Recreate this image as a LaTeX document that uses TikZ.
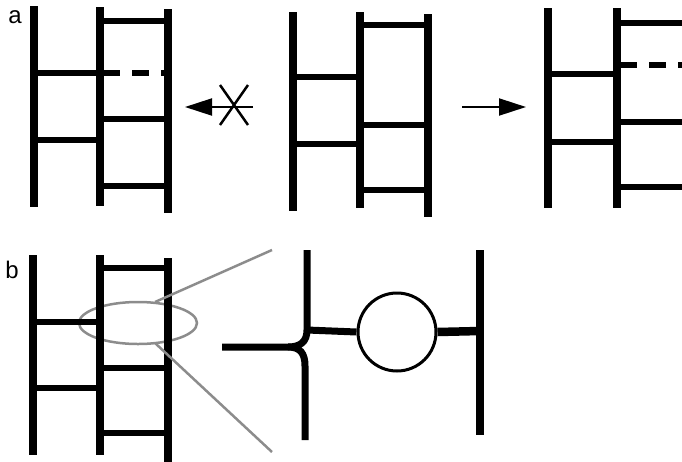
\documentclass[tikz,border=0pt]{standalone}
\usepackage{fontspec}
\setsansfont{Liberation Sans}
\usetikzlibrary{arrows.meta}
\tikzset{
  rail/.style={line width=8pt},
  rung/.style={line width=6.5pt},
  brokenrung/.style={rung, dash pattern=on 17pt off 12pt},
  lens/.style={draw=black!45, line width=2.5pt},
  push/.style={-{Triangle[length=27pt,width=17pt]}, line width=2pt},
  panellabel/.style={font=\sffamily\fontsize{24}{28}\selectfont, inner sep=0pt, anchor=base},
  bulge/.style={circle, draw, line width=3pt, minimum size=78pt, inner sep=0pt},
}

\begin{document}
\begin{tikzpicture}[x=1pt, y=-1pt]
  \useasboundingbox (0,0) rectangle (682,461);
  \clip (0,0) rectangle (682,461);

  % panel a
  \node[panellabel] (tagA) at (15,23) {a};
  % left ladder, blocked
  \draw[rail] (34,6) -- (34,207) (100,7) -- (100,206) (168,9) -- (168,213);
  \foreach \y in {73,140} { \draw[rung] (34,\y) -- (100,\y); }
  \foreach \y in {21,119,186} { \draw[rung] (100,\y) -- (168,\y); }
  \draw[brokenrung] (103,73) -- (168,73);
  % middle ladder
  \draw[rail] (293,12) -- (293,211) (360,12) -- (360,208) (428,14) -- (428,217);
  \foreach \y in {77,144} { \draw[rung] (293,\y) -- (360,\y); }
  \foreach \y in {25,125,190} { \draw[rung] (360,\y) -- (428,\y); }
  % right ladder
  \draw[rail] (548,8) -- (548,208) (617,8) -- (617,208) (686,10) -- (686,215);
  \foreach \y in {74,142} { \draw[rung] (548,\y) -- (617,\y); }
  \foreach \y in {23,122,187} { \draw[rung] (617,\y) -- (686,\y); }
  \draw[brokenrung] (620,65) -- (686,65);
  % arrows
  \coordinate (blockS) at (253,107);
  \coordinate (blockE) at (185,107);
  \draw[push] (blockS) -- (blockE);
  \draw[line width=2.5pt] (220,85) -- (248,125) (248,85) -- (220,125);
  \coordinate (goS) at (462,107);
  \coordinate (goE) at (526,107);
  \draw[push] (goS) -- (goE);

  % panel b
  \node[panellabel] (tagB) at (12,278) {b};
  \draw[lens] (138,323) ellipse [x radius=59, y radius=21];
  \draw[rail] (33,255) -- (33,455) (100,255) -- (100,455) (168,258) -- (168,465);
  \foreach \y in {322,388} { \draw[rung] (33,\y) -- (100,\y); }
  \foreach \y in {268,368,433} { \draw[rung] (100,\y) -- (168,\y); }
  \draw[lens] (155,302) -- (272,250) (155,343) -- (272,452);
  % close-up
  \node[bulge] (ring) at (397,332) {};
  \coordinate (fork) at (288,347);
  \coordinate (upper) at (307,330);
  \draw[rung, line width=7pt] (222,347) -- (fork)
    .. controls (300,347) and (307,342) .. (upper) -- (307,250);
  \draw[rung, line width=7pt] (fork) .. controls (300,347) and (305,353) .. (305,366) -- (305,440);
  \draw[rung, line width=7pt] (upper) -- (ring.west);
  \draw[rail] (480,250) -- (480,435);
  \draw[rung, line width=8.5pt] (ring.east) -- (480,331);
\end{tikzpicture}
\end{document}
